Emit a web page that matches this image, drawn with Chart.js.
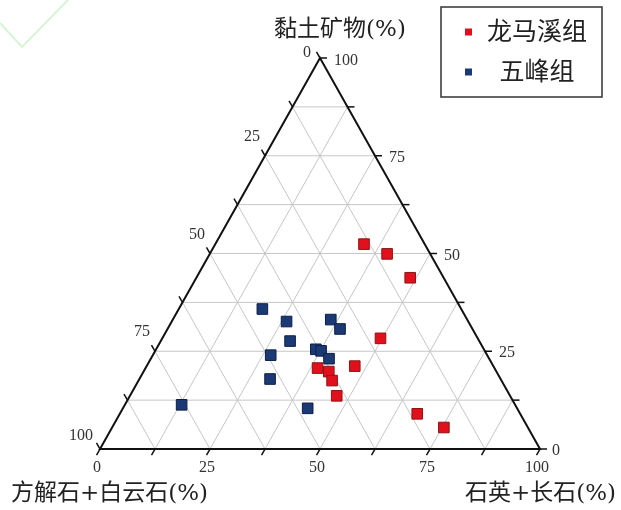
<!DOCTYPE html>
<html>
<head>
<meta charset="utf-8">
<script src="https://cdn.jsdelivr.net/npm/chart.js@4/dist/chart.umd.min.js"></script>
<style>
  html, body { margin: 0; padding: 0; background: #fff; }
  #wrap { width: 621px; height: 510px; position: relative; }
</style>
</head>
<body>
<div id="wrap"><canvas id="ternChart"></canvas></div>
<script>
// series names
const groups = ['龙马溪组', '五峰组'];

// 龙马溪组 (%)
const lmxClay = [52.4, 49.9, 43.8, 28.3, 21.2, 20.7, 19.8, 17.5, 13.6, 9.0, 5.5];
const lmxQuartz = [33.8, 40.3, 48.6, 49.6, 47.3, 39.1, 42.1, 44.0, 47.0, 67.6, 75.4];
const lmxCarb = [13.8, 9.8, 7.6, 22.1, 31.5, 40.2, 38.1, 38.5, 39.4, 23.4, 19.1];

// 五峰组 (%)
const wfClay = [35.8, 32.6, 33.1, 30.7, 27.6, 24.0, 25.5, 25.1, 23.1, 17.9, 11.3, 10.4];
const wfQuartz = [19.0, 26.1, 35.9, 39.2, 29.4, 26.8, 36.3, 37.7, 40.5, 29.7, 12.9, 42.0];
const wfCarb = [45.2, 41.3, 31.0, 30.1, 43.0, 49.2, 38.2, 37.2, 36.4, 52.4, 75.8, 47.6];

// axes
const axisTitles = ['黏土矿物(%)', '方解石+白云石(%)', '石英+长石(%)'];
const tickLabels = [0, 25, 50, 75, 100];
const gridSteps = [12.5, 25, 37.5, 50, 62.5, 75, 87.5];

// ternary -> cartesian (x along bottom, y = clay)
function toXY(clay, quartz) {
    return { x: quartz + clay / 2, y: clay };
}
function toPoints(clay, quartz) {
    return clay.map((c, i) => toXY(c, quartz[i]));
}

const numFont = '16px "Liberation Serif", "DejaVu Serif", serif';
const cjkFont = '"DejaVu Serif", "Noto Sans CJK SC", serif';

const ternaryPlugin = {
    id: 'ternary',
    beforeDatasetsDraw(chart) {
        const ctx = chart.ctx;
        const xs = chart.scales.x, ys = chart.scales.y;
        const P = (x, y) => [xs.getPixelForValue(x), ys.getPixelForValue(y)];

        function line(a, b) {
            ctx.beginPath();
            ctx.moveTo(a[0], a[1]);
            ctx.lineTo(b[0], b[1]);
            ctx.stroke();
        }

        ctx.save();
        // faint corner mark
        ctx.strokeStyle = '#d6f5d6';
        ctx.lineWidth = 2;
        ctx.beginPath();
        ctx.moveTo(0, 23); ctx.lineTo(22, 47); ctx.lineTo(68, 0);
        ctx.stroke();

        // grid
        ctx.strokeStyle = '#c6c6c6';
        ctx.lineWidth = 1;
        gridSteps.forEach(t => {
            const r = 100 - t;
            line(P(t / 2, t), P(100 - t / 2, t));   // constant clay
            line(P(t, 0), P(t + r / 2, r));         // constant quartz
            line(P(r, 0), P(r / 2, r));             // constant carbonate
        });

        // outline
        const A = P(50, 100), B = P(0, 0), C = P(100, 0);
        ctx.strokeStyle = '#111';
        ctx.lineWidth = 2;
        ctx.beginPath();
        ctx.moveTo(A[0], A[1]); ctx.lineTo(B[0], B[1]); ctx.lineTo(C[0], C[1]); ctx.closePath();
        ctx.stroke();

        // ticks (extensions of grid lines)
        const tl = 7;
        ctx.lineWidth = 1.5;
        [0].concat(gridSteps, [100]).forEach(t => {
            const b = P(t, 0);
            line(b, [b[0] - tl * 0.5, b[1] + tl * 0.866]);
            const rr = P(100 - t / 2, t);
            line(rr, [rr[0] + tl, rr[1]]);
            const r = 100 - t;
            const l = P(r / 2, r);
            line(l, [l[0] - tl * 0.5, l[1] - tl * 0.866]);
        });

        // tick labels
        ctx.fillStyle = '#333';
        ctx.font = numFont;
        ctx.textBaseline = 'middle';
        tickLabels.forEach(v => {
            const b = P(v, 0);
            ctx.textAlign = 'center';
            ctx.fillText(String(v), b[0] - 3, b[1] + 19);
            const rr = P(100 - v / 2, v);
            ctx.textAlign = 'left';
            ctx.fillText(String(v), rr[0] + (v === 0 ? 12 : 14), rr[1] + (v === 100 ? 3 : 2));
            const r = 100 - v;
            const l = P(r / 2, r);
            ctx.textAlign = 'center';
            let dx = -13, dy = -19;
            if (v === 0) { dy = -5; }
            if (v === 100) { dx = -19; dy = -13; }
            ctx.fillText(String(v), l[0] + dx, l[1] + dy);
        });

        // axis titles
        ctx.fillStyle = '#222';
        ctx.font = '23px ' + cjkFont;
        ctx.textAlign = 'center';
        ctx.fillText(axisTitles[0], A[0] + 20, 30);
        ctx.textAlign = 'left';
        ctx.fillText(axisTitles[1], 11, 494);
        ctx.textAlign = 'right';
        ctx.fillText(axisTitles[2], 616, 494);
        ctx.restore();
    },
    afterDraw(chart) {
        const ctx = chart.ctx;
        ctx.save();
        ctx.strokeStyle = '#333';
        ctx.lineWidth = 1.5;
        ctx.strokeRect(441, 7, 161, 90);
        ctx.font = '25px ' + cjkFont;
        ctx.textBaseline = 'middle';
        ctx.textAlign = 'center';
        const rows = [32, 72];
        chart.data.datasets.forEach((ds, i) => {
            ctx.fillStyle = ds.backgroundColor;
            ctx.fillRect(465, rows[i] - 3.5, 7, 7);
            ctx.fillStyle = '#222';
            ctx.fillText(ds.label, 537, rows[i] + 1);
        });
        ctx.restore();
    }
};

new Chart(document.getElementById('ternChart'), {
    type: 'scatter',
    data: {
        datasets: [{
            label: groups[0],
            data: toPoints(lmxClay, lmxQuartz),
            pointStyle: 'rect',
            pointRadius: 7.5,
            backgroundColor: '#e2101d',
            borderColor: '#8c1414',
            borderWidth: 1
        }, {
            label: groups[1],
            data: toPoints(wfClay, wfQuartz),
            pointStyle: 'rect',
            pointRadius: 7.5,
            backgroundColor: '#1b3a75',
            borderColor: '#0e1f45',
            borderWidth: 1
        }]
    },
    options: {
        responsive: true,
        maintainAspectRatio: false,
        animation: false,
        layout: { padding: { left: 100, right: 81, top: 58, bottom: 61 } },
        scales: {
            x: { type: 'linear', min: 0, max: 100, display: false },
            y: { type: 'linear', min: 0, max: 100, display: false }
        },
        plugins: {
            legend: { display: false },
            tooltip: { enabled: false }
        }
    },
    plugins: [ternaryPlugin]
});
</script>
</body>
</html>
